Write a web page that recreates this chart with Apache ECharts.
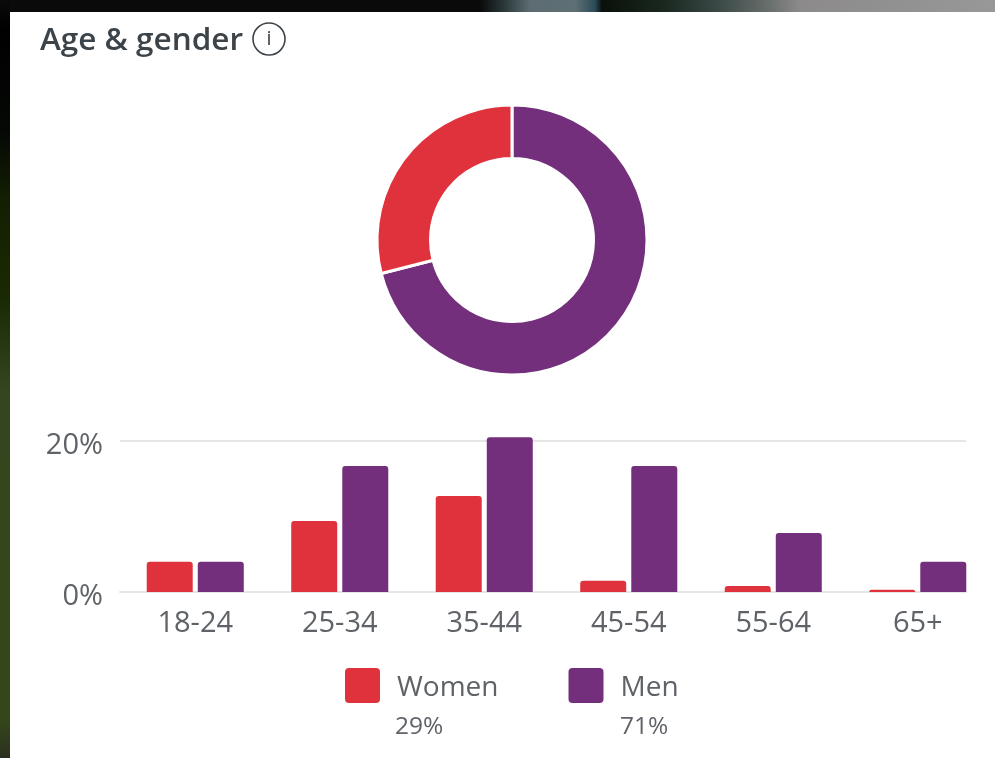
<!DOCTYPE html>
<html>
<head>
<meta charset="utf-8">
<title>Age & gender</title>
<style>
  html, body { margin: 0; height: 100%; background: #000; overflow: hidden; }
  #edge-top { position: absolute; left: 0; top: 0; width: 995px; height: 12px;
    background: linear-gradient(to right, #0a0a0a 0, #0a0a0a 480px, #2c3a3c 505px, #5c6c72 530px, #5f7075 575px, #2c4a58 595px, #0a100a 602px, #1a2820 665px, #3c4a48 720px, #6a706e 770px, #8c8a8a 800px, #989898 995px); }
  #edge-left { position: absolute; left: 0; top: 0; width: 10px; height: 758px;
    background: linear-gradient(to bottom, #0a0a0a 0, #000 30px, #050805 130px, #141f02 200px, #1a2a02 300px, #35461f 390px, #34471a 600px, #35461a 720px, #2a3020 758px); }
  #main { position: absolute; left: 10px; top: 12px; width: 985px; height: 746px; background: #fff; }
</style>
</head>
<body>
<div id="edge-top"></div>
<div id="edge-left"></div>
<div id="main"></div>
<script src="https://cdn.jsdelivr.net/npm/echarts@6/dist/echarts.min.js"></script>
<script>
var ageGroups = ['18-24', '25-34', '35-44', '45-54', '55-64', '65+'];
var women = [4, 9.4, 12.7, 1.5, 0.8, 0.3];
var men = [4, 16.7, 20.5, 16.7, 7.8, 4];
var genderNames = ['Men', 'Women'];
var genderShare = [71, 29];
var red = '#e0323c';
var purple = '#732f7c';
var font = '"Open Sans", sans-serif';
var grey = '#5f6368';

var chart = echarts.init(document.getElementById('main'));

// two grids: bars sit in a wider band than the gridlines
var option = {
    animation: false,
    textStyle: { fontFamily: font },
    title: {
        text: 'Age & gender',
        left: 25,
        top: 8,
        textStyle: { fontFamily: font, fontSize: 31.5, fontWeight: 600, color: '#3d4449' }
    },
    legend: {
        data: ['Women', 'Men'],
        left: 330,
        top: 651,
        icon: 'path://M4 0H31Q35 0 35 4V31Q35 35 31 35H4Q0 35 0 31V4Q0 0 4 0Z',
        itemWidth: 35,
        itemHeight: 35,
        itemGap: 70,
        selectedMode: false,
        formatter: '{a|{name}}',
        textStyle: {
            rich: { a: { fontFamily: font, fontSize: 28, color: grey, padding: [6, 0, 0, 12] } }
        }
    },
    grid: [
        { left: 113, top: 429, width: 867, height: 151 },
        { left: 110, top: 429, width: 846, height: 151 }
    ],
    xAxis: [{
        type: 'category',
        gridIndex: 0,
        data: ageGroups,
        axisLine: { show: false },
        axisTick: { show: false },
        axisLabel: { color: grey, fontSize: 29, margin: 17 }
    }, {
        type: 'category',
        gridIndex: 1,
        show: true,
        data: ageGroups,
        axisLine: { lineStyle: { color: '#e6e6e6', width: 2 } },
        axisTick: { show: false },
        axisLabel: { show: false }
    }],
    yAxis: [{
        type: 'value',
        gridIndex: 0,
        min: 0,
        max: 20,
        show: false
    }, {
        type: 'value',
        gridIndex: 1,
        min: 0,
        max: 20,
        interval: 20,
        axisLine: { show: false },
        axisTick: { show: false },
        axisLabel: { color: grey, fontSize: 29, margin: 17, verticalAlign: 'top', lineHeight: 9, formatter: '{value}%' },
        splitLine: { lineStyle: { color: '#e6e6e6', width: 2 } }
    }],
    series: [{
        name: 'Women',
        type: 'bar',
        data: women,
        clip: false,
        barWidth: 46,
        barGap: '11%',
        itemStyle: { color: red, borderRadius: [3, 3, 0, 0] }
    }, {
        name: 'Men',
        type: 'bar',
        data: men,
        clip: false,
        barWidth: 46,
        barGap: '11%',
        itemStyle: { color: purple, borderRadius: [3, 3, 0, 0] }
    }, {
        type: 'pie',
        center: [502, 228],
        radius: [81.5, 135],
        startAngle: 90,
        label: { show: false },
        labelLine: { show: false },
        itemStyle: { borderColor: '#fff', borderWidth: 3 },
        data: [
            { name: genderNames[0], value: genderShare[0], itemStyle: { color: purple } },
            { name: genderNames[1], value: genderShare[1], itemStyle: { color: red } }
        ]
    }],
    graphic: [
        { type: 'circle', shape: { cx: 259, cy: 27, r: 16 }, style: { fill: 'none', stroke: '#3d4449', lineWidth: 1.6 } },
        { type: 'text', x: 259, y: 27, style: { text: 'i', fontFamily: font, fontSize: 20, fill: '#3d4449', align: 'center', verticalAlign: 'middle' } },
        { type: 'text', x: 385, y: 715, style: { text: genderShare[1] + '%', fontFamily: font, fontSize: 24.5, fill: grey, verticalAlign: 'middle' } },
        { type: 'text', x: 610, y: 715, style: { text: genderShare[0] + '%', fontFamily: font, fontSize: 24.5, fill: grey, verticalAlign: 'middle' } }
    ]
};
chart.setOption(option);
</script>
</body>
</html>
